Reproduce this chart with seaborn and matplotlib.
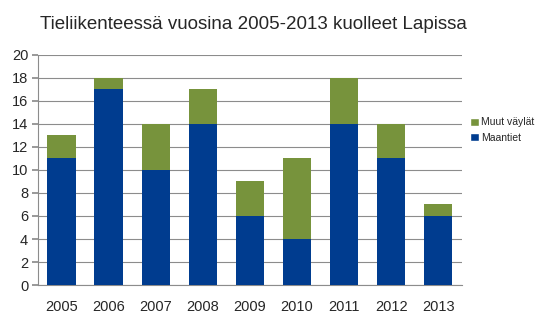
import matplotlib
matplotlib.use("Agg")
import matplotlib.pyplot as plt
import seaborn as sns
import pandas as pd
from matplotlib.patches import Patch

years = ["2005", "2006", "2007", "2008", "2009", "2010", "2011", "2012", "2013"]
maantiet = [11, 17, 10, 14, 6, 4, 14, 11, 6]
muut_vaylat = [2, 1, 4, 3, 3, 7, 4, 3, 1]
yticks = [0, 2, 4, 6, 8, 10, 12, 14, 16, 18, 20]

blue = "#003C8F"
green = "#77933C"

sns.set_theme(style="white")
plt.rcParams['font.family'] = ['Liberation Sans', 'DejaVu Sans']

df = pd.DataFrame({
    "year": years,
    "Maantiet": maantiet,
    "Muut väylät": muut_vaylat,
})
df["total"] = df["Maantiet"] + df["Muut väylät"]

fig = plt.figure(figsize=(5.42, 3.25), dpi=100)
ax = fig.add_axes([0.070, 0.123, 0.782, 0.708])

sns.barplot(data=df, x="year", y="total", color=green, width=0.6,
            saturation=1, ax=ax, zorder=3, linewidth=0, edgecolor="none")
sns.barplot(data=df, x="year", y="Maantiet", color=blue, width=0.6,
            saturation=1, ax=ax, zorder=4, linewidth=0, edgecolor="none")

ax.set_ylim(0, 20)
ax.set_xlim(-0.5, len(years) - 0.5)
ax.set_yticks(yticks)
ax.set_xlabel("")
ax.set_ylabel("")
ax.yaxis.grid(True, color="#8c8c8c", linewidth=0.8, zorder=0)
ax.set_axisbelow(True)
for s in ["top", "right"]:
    ax.spines[s].set_visible(False)
for s in ["left", "bottom"]:
    ax.spines[s].set_color("#8c8c8c")
    ax.spines[s].set_linewidth(0.8)
ax.tick_params(axis="y", which="both", left=True, length=4, color="#8c8c8c",
               labelsize=10.5, pad=3)
ax.tick_params(axis="x", bottom=False, labelsize=10.5, pad=5)

handles = [Patch(facecolor=green, label="Muut väylät"),
           Patch(facecolor=blue, label="Maantiet")]
fig.legend(handles=handles, loc="upper left", bbox_to_anchor=(0.858, 0.655),
           frameon=False, fontsize=7.5, handlelength=0.8, handleheight=0.8,
           handletextpad=0.2, labelspacing=0.5, borderpad=0)

fig.text(0.467, 0.925, "Tieliikenteessä vuosina 2005-2013 kuolleet Lapissa",
         ha="center", va="center", fontsize=13.5)

fig.savefig("out.png", dpi=100, facecolor="white")
